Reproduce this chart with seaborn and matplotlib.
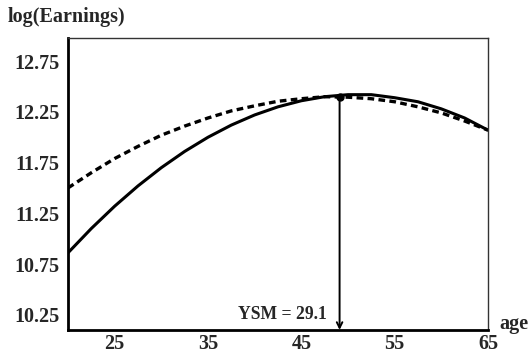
import matplotlib
matplotlib.use("Agg")
import matplotlib.pyplot as plt
import pandas as pd
import seaborn as sns

ages = [20, 22.5, 25, 27.5, 30, 32.5, 35, 37.5, 40, 42.5, 45, 47.5,
        50, 52.5, 55, 57.5, 60, 62.5, 65]
solid_vals = [10.86, 11.10, 11.32, 11.52, 11.70, 11.86, 12.00, 12.12, 12.22,
              12.30, 12.36, 12.40, 12.42, 12.42, 12.39, 12.35, 12.28, 12.19, 12.07]
dashed_vals = [11.50, 11.65, 11.79, 11.91, 12.02, 12.11, 12.19, 12.26, 12.31,
               12.355, 12.38, 12.40, 12.395, 12.38, 12.35, 12.30, 12.24, 12.16, 12.07]
ysm_age = 49.1
ysm_val = 12.40
x_ticks = [25, 35, 45, 55, 65]
y_ticks = [10.25, 10.75, 11.25, 11.75, 12.25, 12.75]

df = pd.DataFrame({"age": ages, "solid": solid_vals, "dashed": dashed_vals})

sns.set_style("white")
plt.rcParams["font.family"] = ["Liberation Serif", "DejaVu Serif"]
plt.rcParams["font.weight"] = "bold"

fig = plt.figure(figsize=(5.31, 3.54), dpi=100)
ax = fig.add_axes([0.128, 0.068, 0.791, 0.825])

sns.lineplot(data=df, x="age", y="solid", color="black", lw=2.2, ax=ax)
sns.lineplot(data=df, x="age", y="dashed", color="black", lw=2.4, ax=ax)
ax.lines[-1].set_dashes([2.0, 1.3])
ax.plot([ysm_age], [ysm_val], "o", color="black", ms=5)

ax.annotate("", xy=(ysm_age, 10.1), xytext=(ysm_age, ysm_val),
            arrowprops=dict(arrowstyle="->", color="black", lw=1.4,
                            shrinkA=0, shrinkB=0, mutation_scale=10))
ax.text(ysm_age - 1.4, 10.25, "YSM = 29.1", ha="right", va="center",
        fontsize=12.7, fontweight="bold")

ax.set_xlim(20, 65)
ax.set_ylim(10.1, 12.98)
ax.set_xticks(x_ticks)
ax.set_yticks(y_ticks)
ax.set_xticklabels([str(t) for t in x_ticks], fontsize=14.5, fontweight="bold")
ax.set_yticklabels([f"{t:.2f}" for t in y_ticks], fontsize=14.5, fontweight="bold")
ax.tick_params(axis="x", direction="in", length=2, color="#999999", pad=3)
ax.tick_params(axis="y", direction="out", length=2, color="#999999", pad=4)
ax.set_xlabel("")
ax.set_ylabel("")

for side in ["left", "bottom"]:
    ax.spines[side].set_linewidth(2.0)
    ax.spines[side].set_color("black")
for side in ["top", "right"]:
    ax.spines[side].set_linewidth(1.0)
    ax.spines[side].set_color("#333333")

fig.text(0.015, 0.952, "log(Earnings)", ha="left", va="center",
         fontsize=14.5, fontweight="bold")
fig.text(0.94, 0.085, "age", ha="left", va="center",
         fontsize=14.5, fontweight="bold")

fig.savefig("out.png", dpi=100)
